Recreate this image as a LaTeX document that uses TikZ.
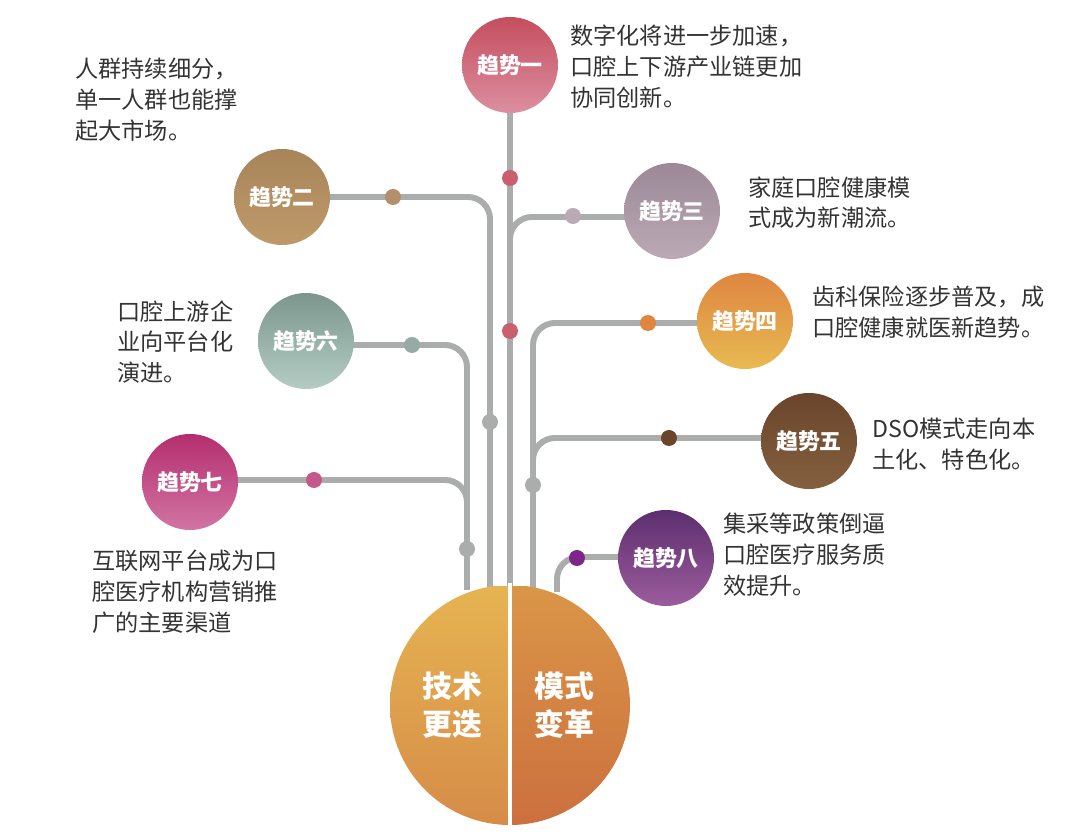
\documentclass[tikz,border=0pt]{standalone}
\usepackage{fontspec}
\setmainfont{Noto Sans CJK SC}
\definecolor{ga}{HTML}{ABADAD}
\definecolor{a1}{HTML}{C44E5E}\definecolor{b1}{HTML}{DC8FA0}
\definecolor{a2}{HTML}{A8845A}\definecolor{b2}{HTML}{BE9A6A}
\definecolor{a3}{HTML}{9C8896}\definecolor{b3}{HTML}{BBAAB6}
\definecolor{a4}{HTML}{DE8640}\definecolor{b4}{HTML}{E8BA52}
\definecolor{a5}{HTML}{6A452C}\definecolor{b5}{HTML}{84603E}
\definecolor{a6}{HTML}{7C968E}\definecolor{b6}{HTML}{B4CCC4}
\definecolor{a7}{HTML}{B42E6E}\definecolor{b7}{HTML}{D274A4}
\definecolor{a8}{HTML}{5C2E6E}\definecolor{b8}{HTML}{9C5C9C}
\definecolor{tt}{HTML}{333333}
\begin{document}
\begin{tikzpicture}[x=0.02cm,y=-0.02cm,
  ln/.style={draw=ga,line width=3.4pt,rounded corners=22*0.02cm},
  tr/.style={circle,minimum size=96*0.02cm,inner sep=0pt,text=white,font=\bfseries\fontsize{12.5}{15}\selectfont},
  dt/.style={circle,minimum size=16*0.02cm,inner sep=0pt},
  tx/.style={anchor=north west,align=left,text=tt,font=\fontsize{13.2}{17.5}\selectfont,inner sep=0pt}]
\useasboundingbox (0,0) rectangle (1080,837);
% lines
\draw[ln] (510,65) -- (510,588);
\draw[ln] (282,197) -- (490,197) -- (490,588);
\draw[ln] (672,217) -- (510,217) -- (510,260);
\draw[ln] (745,323) -- (533,323) -- (533,588);
\draw[ln] (809,438) -- (533,438) -- (533,480);
\draw[ln] (306,345) -- (467,345) -- (467,590);
\draw[ln] (190,480) -- (467,480) -- (467,520);
\draw[ln] (666,557) -- (557,557) -- (557,592);
% trend circles
\node[tr,top color=a1,bottom color=b1] (t1) at (510,65) {趋势一};
\node[tr,top color=a2,bottom color=b2] (t2) at (282,197) {趋势二};
\node[tr,top color=a3,bottom color=b3] (t3) at (672,211) {趋势三};
\node[tr,top color=a4,bottom color=b4] (t4) at (745,321) {趋势四};
\node[tr,top color=a5,bottom color=b5] (t5) at (809,441) {趋势五};
\node[tr,top color=a6,bottom color=b6] (t6) at (306,341) {趋势六};
\node[tr,top color=a7,bottom color=b7] (t7) at (190,482) {趋势七};
\node[tr,top color=a8,bottom color=b8] (t8) at (666,558) {趋势八};
% dots
\node[dt,fill=a1!90!white] (d1) at (510,178) {};
\node[dt,fill=a1!90!white] (d1b) at (510,331) {};
\node[dt,fill=a2!90!white] (d2) at (393,197) {};
\node[dt,fill=b3] (d3) at (573,216) {};
\node[dt,fill=a4] (d4) at (648,323) {};
\node[dt,fill=a5] (d5) at (669,438) {};
\node[dt,fill=a6!80!white] (d6) at (412,345) {};
\node[dt,fill=a7!80!white] (d7) at (314,480) {};
\node[dt,fill=a8!80!magenta] (d8) at (577,558) {};
\node[dt,fill=ga] (g1) at (490,422) {};
\node[dt,fill=ga] (g2) at (533,485) {};
\node[dt,fill=ga] (g3) at (467,549) {};
% big circle
\begin{scope}
\clip (390,587) rectangle (510,830);
\shade[top color={rgb,255:red,230;green,180;blue,82},bottom color={rgb,255:red,214;green,140;blue,72}] (510,705) circle (120*0.02cm);
\end{scope}
\begin{scope}
\clip (510,587) rectangle (640,830);
\shade[top color={rgb,255:red,218;green,150;blue,72},bottom color={rgb,255:red,204;green,112;blue,62}] (510,705) circle (120*0.02cm);
\end{scope}
\draw[white,line width=2pt] (510,583) -- (510,828);
\node[text=white,font=\bfseries\fontsize{17}{22}\selectfont,align=center] (L) at (452,705) {技术\\更迭};
\node[text=white,font=\bfseries\fontsize{17}{22}\selectfont,align=center] (R) at (564,705) {模式\\变革};
% texts
\node[tx] (x1) at (570,25) {数字化将进一步加速，\\口腔上下游产业链更加\\协同创新。};
\node[tx] (x2) at (75,58) {人群持续细分，\\单一人群也能撑\\起大市场。};
\node[tx] (x3) at (748,176) {家庭口腔健康模\\式成为新潮流。};
\node[tx] (x4) at (812,286) {齿科保险逐步普及，成\\口腔健康就医新趋势。};
\node[tx] (x5) at (872,418) {DSO模式走向本\\土化、特色化。};
\node[tx] (x6) at (117,300) {口腔上游企\\业向平台化\\演进。};
\node[tx] (x7) at (92,550) {互联网平台成为口\\腔医疗机构营销推\\广的主要渠道};
\node[tx] (x8) at (723,513) {集采等政策倒逼\\口腔医疗服务质\\效提升。};
\end{tikzpicture}
\end{document}
